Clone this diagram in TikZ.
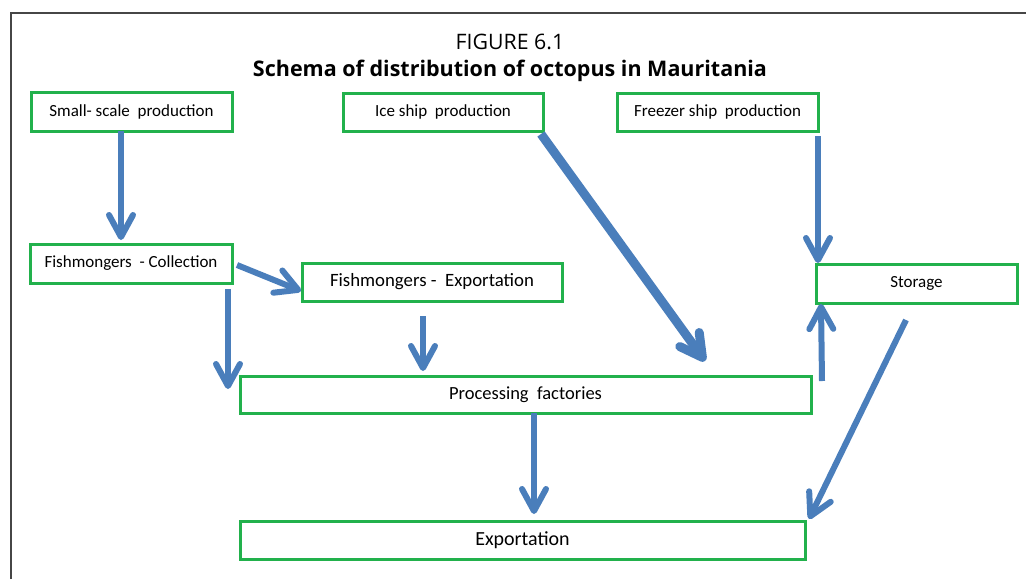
\documentclass[tikz,border=0pt]{standalone}
\usepackage{fontspec}
\setmainfont{Carlito}
\newfontfamily\headfont{Open Sans}
\usetikzlibrary{arrows.meta}

\definecolor{boxgreen}{RGB}{34,177,76}
\definecolor{flowblue}{RGB}{74,126,187}
\definecolor{framegray}{RGB}{70,70,70}

\tikzset{
  stagebox/.style={draw=boxgreen, line width=3pt, fill=white, inner sep=0pt,
    outer sep=0pt, align=center, text=black},
  flow/.style={draw=flowblue, line width=6pt,
    -{Straight Barb[length=22pt,width=24pt,round]}},
  heavyflow/.style={flow, line width=9pt},
}

\begin{document}
\begin{tikzpicture}[x=1pt,y=-1pt]
\useasboundingbox (0,0) rectangle (1026,579);

% outer frame (left and top rules)
\draw[framegray, line width=1.4pt] (11,579) -- (11,13) -- (1026,13);

% heading
\node[font=\headfont\fontsize{21.3}{24}\selectfont] (fignum) at (510,42) {FIGURE 6.1};
\node[font=\headfont\bfseries\fontsize{21.5}{24}\selectfont] (heading) at (510,70.5)
  {Schema of distribution of octopus in Mauritania};

% stages
\node[stagebox, minimum width=201pt, minimum height=39pt, font=\fontsize{17}{19}\selectfont]
  (small) at (131.5,111.5) {Small- scale\ \ production};
\node[stagebox, minimum width=200pt, minimum height=38pt, font=\fontsize{17}{19}\selectfont]
  (ice) at (443,112) {Ice ship\ \ production};
\node[stagebox, minimum width=201pt, minimum height=38pt, font=\fontsize{17}{19}\selectfont]
  (freezer) at (717.5,112) {Freezer ship\ \ production};
\node[stagebox, minimum width=202pt, minimum height=39pt, font=\fontsize{17}{19}\selectfont]
  (coll) at (131,263.5) {Fishmongers\ \ - Collection};
\node[stagebox, minimum width=260pt, minimum height=38pt, font=\fontsize{18.8}{21}\selectfont]
  (fexp) at (432,282) {Fishmongers -\ \ Exportation};
\node[stagebox, minimum width=201pt, minimum height=39pt, font=\fontsize{17}{19}\selectfont]
  (storage) at (916.5,283.5) {Storage};
\node[stagebox, minimum width=571pt, minimum height=37pt, font=\fontsize{18.5}{21}\selectfont]
  (proc) at (525.5,394.5) {Processing\ \ factories};
\node[stagebox, minimum width=565pt, minimum height=38pt, font=\fontsize{20}{23}\selectfont]
  (export) at (522.5,540) {Exportation};

% flows
\draw[flow] ([xshift=-10.5pt]small.south) -- ([xshift=-10pt,yshift=4pt]coll.north);
\draw[flow] ([xshift=5pt,yshift=-1.5pt]coll.east) -- ([xshift=-1pt,yshift=-9pt]fexp.west);
\draw[flow] ([xshift=97pt,yshift=-6pt]coll.south) -- ([xshift=-12pt,yshift=5.5pt]proc.west);
\draw[flow] ([xshift=-9pt,yshift=-15pt]fexp.south) -- ([xshift=-102.5pt,yshift=5pt]proc.north);
\draw[heavyflow] ([xshift=-2pt,yshift=-3pt]ice.south east) -- ([xshift=179.5pt,yshift=15pt]proc.north);
\draw[flow] ([yshift=-5pt]freezer.south east) -- ([xshift=2pt,yshift=1pt]storage.north west);
\draw[flow] ([xshift=11pt,yshift=-5pt]proc.north east) -- ([xshift=5pt,yshift=-1pt]storage.south west);
\draw[flow] ([xshift=-10.5pt,yshift=-17pt]storage.south) -- ([xshift=4pt,yshift=2pt]export.north east);
\draw[flow] ([xshift=8.5pt]proc.south) -- ([xshift=11.5pt,yshift=7pt]export.north);
\end{tikzpicture}
\end{document}
